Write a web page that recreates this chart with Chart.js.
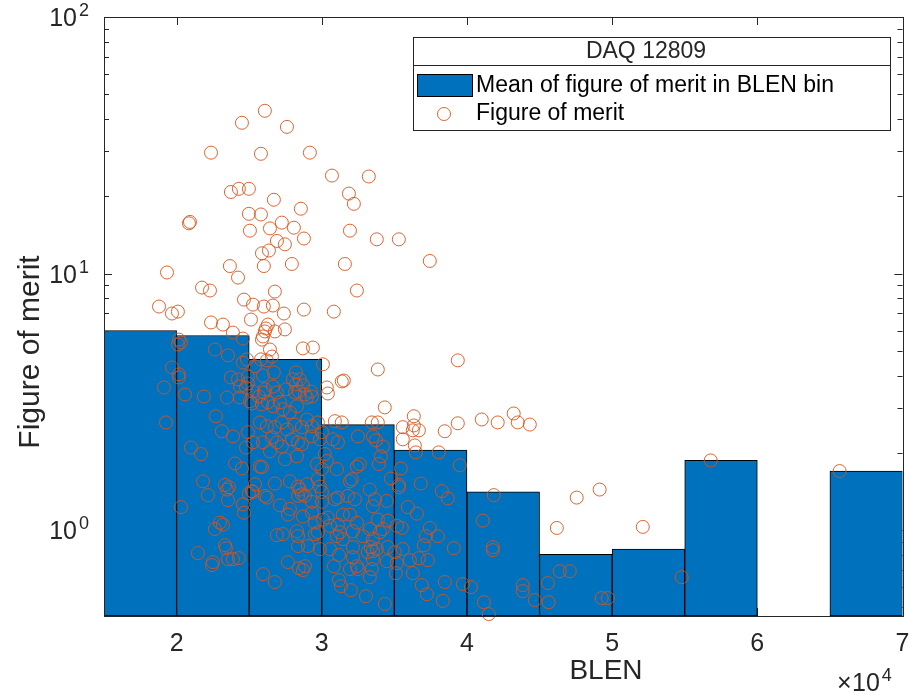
<!DOCTYPE html>
<html>
<head>
<meta charset="utf-8">
<title>DAQ 12809 - figure of merit vs BLEN</title>
<script src="https://cdn.jsdelivr.net/npm/chart.js@4.4.0/dist/chart.umd.min.js"></script>
<style>
  html, body { margin: 0; padding: 0; background: #ffffff; }
  #wrap { width: 910px; height: 693px; }
</style>
</head>
<body>
<div id="wrap"><canvas id="fomChart" width="910" height="693"></canvas></div>
<script>
// BLEN bins (5000 wide) and the mean figure of merit in each one
var binCenters = [17500, 22500, 27500, 32500, 37500, 42500, 47500, 52500, 57500, 62500, 67500];
var binMeans = [6.00, 5.74, 4.63, 2.58, 2.05, 1.41, 0.806, 0.844, 1.87, null, 1.70];

// individual events: BLEN and figure of merit
var blen = [
  26080, 24500, 27600, 22370, 25810, 29180, 30700, 33240, 23740, 24290,
  24980, 26700, 31870, 32210, 28560, 24980, 25810, 20850, 20920, 26430,
  27250, 28080, 25050, 31940, 26910, 27460, 28770, 33790, 35310, 25880,
  26360, 37440, 19340, 23670, 26010, 27940, 31590, 24230, 21750, 22300,
  26770, 32420, 18790, 19680, 20090, 24640, 25260, 26010, 26630, 27390,
  28770, 30830, 25120, 22370, 23190, 23880, 24570, 26290, 26150, 26080,
  25950, 25880, 26770, 27460, 20160, 20300, 20090, 22640, 23540, 26430,
  26570, 28700, 29390, 24840, 25810, 26220, 24570, 25400, 30080, 26700,
  19680, 20160, 20160, 25950, 24910, 23740, 24230, 24360, 24780, 28220,
  33860, 31380, 31520, 28010, 28490, 28220, 28700, 28420, 29250, 24910,
  26080, 25260, 26630, 26910, 27530, 30350, 30420, 19130, 20580, 21880,
  23470, 24360, 25670, 26010, 26290, 39370, 28150, 28840, 28980, 29320,
  25050, 25190, 25880, 26630, 27120, 27320, 27800, 28290, 30900, 31380,
  33450, 33860, 25740, 26220, 26770, 27250, 27600, 28150, 28630, 28980,
  29320, 29730, 19270, 22710, 23120, 23880, 24910, 26570, 26910, 27250,
  27940, 28360, 28630, 29320, 30010, 29870, 30760, 31110, 32490, 33520,
  20990, 21680, 24780, 25260, 25950, 26430, 27460, 28290, 25740, 29660,
  30010, 30210, 30350, 31040, 32420, 32620, 32070, 31940, 24020, 24500,
  25880, 21820, 23330, 23610, 23470, 25400, 25260, 24980, 22160, 26220,
  26770, 27800, 28360, 28490, 28980, 29730, 29870, 30010, 25190, 26080,
  28360, 28630, 28840, 29320, 30010, 30900, 31110, 31800, 32280, 23540,
  24570, 20300, 24640, 22990, 23190, 22640, 21470, 23330, 23400, 22500,
  22440, 23540, 23880, 24290, 25950, 26770, 26910, 27670, 28420, 28700,
  28840, 30830, 31180, 31940, 32420, 32490, 31180, 31320, 32000, 33040,
  33310, 33450, 33520, 33170, 33520, 33380, 33790, 32830, 32140, 32140,
  27120, 27800, 27670, 28700, 29320, 29530, 30080, 30420, 30560, 31110,
  31450, 31940, 31250, 29730, 29530, 27320, 28290, 28360, 28360, 29040,
  29870, 30560, 31040, 31450, 32140, 32420, 34340, 36340, 35580, 36340,
  36690, 36270, 35580, 36410, 36480, 38470, 39370, 41020, 42120, 43220,
  43500, 44330, 38060, 39510, 33730, 34210, 34070, 33930, 35450, 34760,
  35310, 35310, 36820, 38270, 38680, 41850, 34480, 33520, 33660, 33310,
  35930, 36550, 41090, 33860, 34550, 35170, 35510, 33310, 34210, 33520,
  34000, 37440, 37170, 37990, 37030, 39090, 41780, 41780, 34550, 35030,
  35580, 34480, 35170, 36070, 36690, 37300, 35100, 36270, 36890, 37240,
  38470, 39710, 40270, 34340, 38340, 41160, 41500, 43840, 43840, 44670,
  45570, 45630, 46190, 46390, 47080, 47560, 49140, 52110, 56790, 65670,
  54790, 49280, 49700
];
var fom = [
  43.1, 38.7, 37.3, 29.6, 29.3, 29.6, 24.1, 23.9, 20.8, 21.4,
  21.4, 19.4, 20.5, 18.7, 17.9, 17.1, 17.0, 15.7, 15.9, 15.0,
  15.8, 15.1, 14.7, 14.7, 13.4, 13.0, 13.7, 13.6, 13.6, 12.0,
  12.3, 11.2, 10.1, 10.7, 10.7, 10.9, 10.9, 9.65, 8.82, 8.59,
  8.51, 8.59, 7.44, 6.99, 7.11, 7.92, 7.57, 7.44, 7.51, 6.99,
  7.24, 7.11, 6.62, 6.45, 6.33, 5.89, 5.58, 6.33, 6.11, 5.95,
  5.69, 5.53, 5.95, 6.06, 5.53, 5.39, 5.29, 5.06, 4.80, 5.06,
  4.75, 5.11, 5.15, 4.63, 4.63, 4.59, 4.50, 4.35, 4.43, 4.12,
  4.31, 4.05, 3.94, 4.01, 3.97, 3.94, 3.87, 3.63, 3.60, 4.12,
  4.23, 3.80, 3.83, 3.87, 3.87, 3.70, 3.67, 3.47, 3.47, 3.73,
  3.54, 3.47, 3.63, 3.44, 3.54, 3.60, 3.41, 3.60, 3.38, 3.32,
  3.29, 3.29, 3.32, 3.44, 3.15, 4.59, 3.44, 3.38, 3.29, 3.32,
  3.18, 3.12, 3.09, 3.04, 3.15, 2.96, 2.88, 3.04, 2.66, 2.63,
  2.63, 2.63, 2.63, 2.54, 2.52, 2.63, 2.47, 2.58, 2.52, 2.70,
  2.54, 2.63, 2.63, 2.78, 2.43, 2.32, 2.41, 2.30, 2.20, 2.12,
  2.26, 2.20, 2.16, 2.32, 2.41, 2.26, 2.26, 2.20, 2.32, 2.32,
  2.10, 1.98, 2.10, 2.20, 2.20, 2.03, 1.89, 1.94, 1.77, 1.81,
  1.73, 1.98, 1.86, 1.73, 1.77, 1.81, 1.58, 1.55, 1.82, 1.74,
  1.76, 1.55, 1.50, 1.47, 1.44, 1.51, 1.41, 1.39, 1.37, 1.34,
  1.52, 1.55, 1.48, 1.44, 1.51, 1.58, 1.48, 1.41, 1.42, 1.36,
  1.36, 1.38, 1.36, 1.29, 1.29, 1.32, 1.34, 1.36, 1.32, 1.31,
  1.26, 1.23, 1.17, 1.07, 1.05, 1.01, 0.814, 0.874, 0.851, 0.751,
  0.731, 0.771, 0.771, 0.778, 0.674, 0.628, 0.956, 0.751, 0.711, 0.699,
  0.724, 0.724, 0.800, 0.705, 0.724, 0.705, 0.639, 0.605, 0.584, 0.553,
  0.656, 0.705, 0.771, 0.821, 0.828, 0.859, 0.844, 0.948, 0.859, 0.785,
  1.25, 1.21, 1.15, 1.13, 1.17, 1.07, 1.10, 1.12, 1.04, 1.05,
  1.15, 1.15, 0.982, 0.982, 0.965, 0.965, 0.991, 0.948, 0.867, 0.867,
  0.844, 0.844, 0.948, 0.923, 0.991, 1.07, 3.01, 2.78, 2.52, 2.56,
  2.45, 2.45, 2.26, 2.14, 2.01, 2.43, 2.61, 2.70, 2.63, 2.85,
  2.63, 2.58, 2.01, 1.79, 2.24, 2.12, 1.94, 1.81, 1.74, 1.59,
  1.50, 1.47, 1.52, 1.42, 1.33, 1.37, 1.30, 1.24, 1.32, 1.44,
  1.23, 1.16, 1.09, 1.10, 1.09, 1.04, 1.02, 1.01, 1.01, 0.923,
  0.982, 1.02, 0.948, 0.948, 0.874, 0.851, 0.859, 0.836, 0.859, 0.821,
  0.844, 0.757, 0.744, 0.764, 0.778, 0.764, 0.680, 0.680, 0.611, 0.563,
  0.628, 0.617, 0.600, 0.516, 0.530, 0.524, 0.471, 0.611, 0.579, 0.534,
  0.622, 0.524, 1.02, 0.692, 0.692, 1.34, 1.44, 1.03, 1.87, 1.70,
  0.656, 0.544, 0.544
];

var xTicks = [20000, 30000, 40000, 50000, 60000, 70000];
var yTicks = [1, 10, 100];
var yDecades = [0.1, 1, 10];

var legendTitle = 'DAQ 12809';
var barLabel = 'Mean of figure of merit in BLEN bin';
var pointLabel = 'Figure of merit';

var barColor = '#0072BD';
var markerColor = 'rgba(217, 83, 25, 0.9)';
var axisColor = '#262626';
var fontFamily = '"Liberation Sans", Arial, Helvetica, sans-serif';

var bars = binCenters.map(function (c, i) { return { x: c, y: binMeans[i] }; });
var points = blen.map(function (b, i) { return { x: b, y: fom[i] }; });

// draws "base" with a raised exponent, right edge at x (or left edge)
function powerLabel(ctx, base, exp, x, y, baseSize, expSize, align) {
    ctx.font = expSize + 'px ' + fontFamily;
    var expW = ctx.measureText(exp).width;
    ctx.font = baseSize + 'px ' + fontFamily;
    var baseW = ctx.measureText(base).width;
    var left = align === 'left' ? x : x - expW - baseW - 2;
    ctx.textAlign = 'left';
    ctx.textBaseline = 'alphabetic';
    ctx.fillText(base, left, y);
    ctx.font = expSize + 'px ' + fontFamily;
    ctx.fillText(exp, left + baseW + 2, y - 10);
}

var matlabAxes = {
    id: 'matlabAxes',
    beforeDatasetsDraw: function (chart) {
        // inward ticks sit underneath the bars
        var ctx = chart.ctx, a = chart.chartArea;
        var xs = chart.scales.x, ys = chart.scales.y;
        ctx.save();
        ctx.strokeStyle = axisColor;
        ctx.lineWidth = 1;
        ctx.beginPath();
        xTicks.forEach(function (v) {
            var px = Math.round(xs.getPixelForValue(v)) + 0.5;
            ctx.moveTo(px, a.bottom); ctx.lineTo(px, a.bottom - 8);
            ctx.moveTo(px, a.top); ctx.lineTo(px, a.top + 8);
        });
        yDecades.forEach(function (d) {
            for (var m = 1; m <= 9; m++) {
                var v = m * d;
                if (v < ys.min || v > ys.max) continue;
                var len = m === 1 ? 8 : 5;
                var py = Math.round(ys.getPixelForValue(v)) + 0.5;
                ctx.moveTo(a.left, py); ctx.lineTo(a.left + len, py);
                ctx.moveTo(a.right, py); ctx.lineTo(a.right - len, py);
            }
        });
        ctx.stroke();
        ctx.restore();
    },
    afterDraw: function (chart) {
        var ctx = chart.ctx, a = chart.chartArea;
        var xs = chart.scales.x, ys = chart.scales.y;
        ctx.save();

        // axes box
        ctx.strokeStyle = axisColor;
        ctx.lineWidth = 1;
        ctx.strokeRect(Math.round(a.left) + 0.5, Math.round(a.top) + 0.5,
            Math.round(a.right - a.left), Math.round(a.bottom - a.top));

        ctx.fillStyle = axisColor;

        // x tick labels
        ctx.font = '25px ' + fontFamily;
        ctx.textAlign = 'center';
        ctx.textBaseline = 'alphabetic';
        xTicks.forEach(function (v) {
            ctx.fillText(String(v / 10000), xs.getPixelForValue(v), a.bottom + 35);
        });

        // y tick labels 10^n
        yTicks.forEach(function (v) {
            var py = ys.getPixelForValue(v);
            powerLabel(ctx, '10', String(Math.round(Math.log10(v))), a.left - 15, py + 9, 25, 18);
        });

        // axis titles
        ctx.font = '28px ' + fontFamily;
        ctx.textAlign = 'center';
        ctx.textBaseline = 'alphabetic';
        ctx.fillText('BLEN', 606, a.bottom + 63);

        ctx.save();
        ctx.font = '30px ' + fontFamily;
        ctx.translate(31, 352);
        ctx.rotate(-Math.PI / 2);
        ctx.textBaseline = 'middle';
        ctx.fillText('Figure of merit', 0, 0);
        ctx.restore();

        // exponent of the x axis
        ctx.font = '25px ' + fontFamily;
        ctx.textAlign = 'left';
        ctx.fillText('\u00d7', 837, 691);
        powerLabel(ctx, '10', '4', 852, 691, 25, 18, 'left');

        // legend
        var L = { left: 413.5, top: 37.5, right: 890.5, bottom: 130.5, split: 65.5 };
        ctx.fillStyle = '#ffffff';
        ctx.fillRect(L.left, L.top, L.right - L.left, L.bottom - L.top);
        ctx.strokeStyle = axisColor;
        ctx.lineWidth = 1;
        ctx.strokeRect(L.left, L.top, L.right - L.left, L.bottom - L.top);
        ctx.beginPath();
        ctx.moveTo(L.left, L.split); ctx.lineTo(L.right, L.split);
        ctx.stroke();

        ctx.fillStyle = axisColor;
        ctx.font = '23px ' + fontFamily;
        ctx.textAlign = 'center';
        ctx.textBaseline = 'middle';
        ctx.fillText(legendTitle, 646, 52);

        ctx.fillStyle = barColor;
        ctx.fillRect(417, 74, 56, 23);
        ctx.strokeStyle = '#000000';
        ctx.strokeRect(417.5, 74.5, 55, 22);

        ctx.beginPath();
        ctx.arc(444, 114, 6.5, 0, Math.PI * 2);
        ctx.strokeStyle = markerColor;
        ctx.stroke();

        ctx.fillStyle = '#000000';
        ctx.textAlign = 'left';
        ctx.fillText(barLabel, 476, 86);
        ctx.fillText(pointLabel, 476, 114);

        ctx.restore();
    }
};

var chart = new Chart(document.getElementById('fomChart'), {
    type: 'bar',
    data: {
        datasets: [{
            type: 'scatter',
            label: pointLabel,
            data: points,
            order: 0,
            pointStyle: 'circle',
            pointRadius: 6.5,
            pointBorderWidth: 1,
            borderColor: markerColor,
            pointBorderColor: markerColor,
            backgroundColor: 'rgba(0,0,0,0)',
            pointBackgroundColor: 'rgba(0,0,0,0)',
            clip: false
        }, {
            type: 'bar',
            label: barLabel,
            data: bars,
            order: 1,
            backgroundColor: barColor,
            borderColor: '#000000',
            borderWidth: 1,
            borderSkipped: false,
            barPercentage: 1,
            categoryPercentage: 1,
            grouped: false
        }]
    },
    options: {
        responsive: false,
        animation: false,
        events: [],
        layout: { padding: { left: 0, top: 17, right: 7, bottom: 0 } },
        plugins: {
            legend: { display: false },
            tooltip: { enabled: false }
        },
        scales: {
            x: {
                type: 'linear',
                min: 15000,
                max: 70000,
                offset: false,
                grid: { display: false, drawTicks: false },
                border: { display: false },
                ticks: { display: false },
                afterBuildTicks: function (s) { s.ticks = xTicks.map(function (v) { return { value: v }; }); },
                afterFit: function (s) { s.height = 77; }
            },
            y: {
                type: 'logarithmic',
                min: 0.463,
                max: 100,
                grid: { display: false, drawTicks: false },
                border: { display: false },
                ticks: { display: false },
                afterFit: function (s) { s.width = 104; }
            }
        }
    },
    plugins: [matlabAxes]
});
</script>
</body>
</html>
